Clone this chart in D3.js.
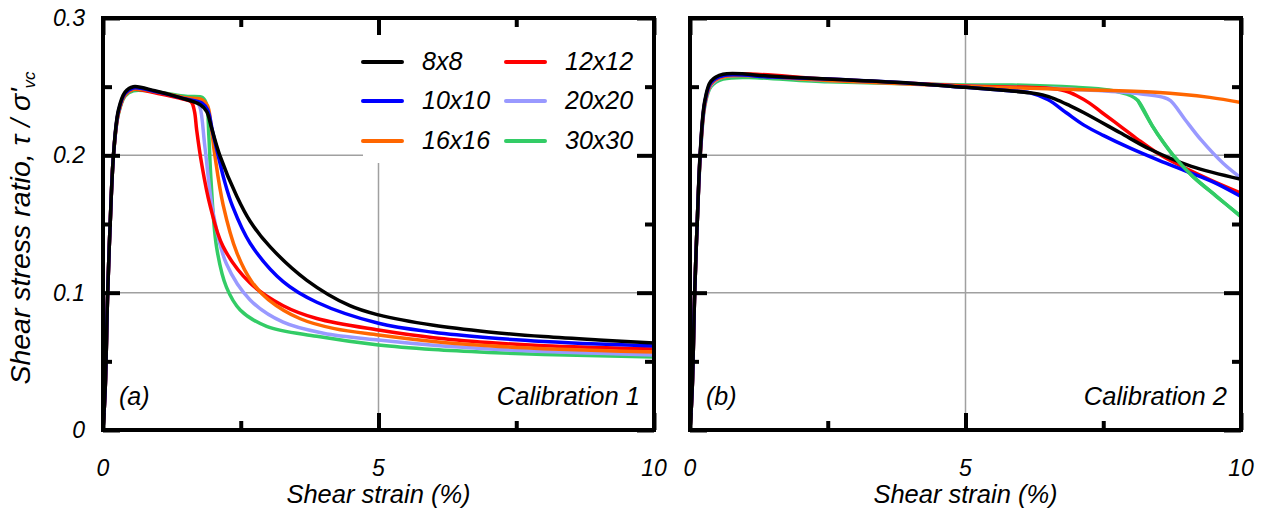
<html>
<head>
<meta charset="utf-8">
<style>
  body { margin: 0; background: #fff; }
  text { font-family: "Liberation Sans", Arial, sans-serif; font-style: italic; fill: #000; }
  .grid { stroke: #a0a0a0; stroke-width: 1.5px; }
  .curve { fill: none; stroke-width: 3.5px; stroke-linejoin: round; stroke-linecap: round; }
</style>
</head>
<body>
<script src="https://cdn.jsdelivr.net/npm/d3@7"></script>
<script>
// mesh sizes, legend order and colours
var meshes = ["8x8", "10x10", "16x16", "12x12", "20x20", "30x30"];
var meshColors = {"8x8": "#000000", "10x10": "#0000ff", "16x16": "#ff6600",
                  "12x12": "#ff0000", "20x20": "#9999ff", "30x30": "#33cc66"};
var drawOrder = ["30x30", "20x20", "12x12", "16x16", "10x10", "8x8"];

var xTicks = [0, 5, 10];
var xMinor = [2.5, 7.5];
var yTicks = [0, 0.1, 0.2, 0.3];
var yMinor = [0.05, 0.15, 0.25];

// Calibration 1 : [strain %, tau/sigma'vc]
var cal1_8x8 = [[0,0],[0.04,0.03],[0.085,0.1],[0.13,0.15],[0.19,0.2],[0.28,0.233],[0.4,0.246],[0.55,0.25],[0.94,0.247],[1.4,0.242],[1.76,0.237],[1.88,0.232],[1.97,0.22],[2.12,0.2],[2.43,0.17],[2.67,0.152],[3.03,0.1335],[3.7,0.109],[4.48,0.0905],[5,0.0838],[6,0.0762],[7,0.0714],[8,0.068],[9,0.0655],[10,0.0634]];
var cal1_10x10 = [[0,0],[0.04,0.03],[0.085,0.1],[0.13,0.15],[0.19,0.2],[0.28,0.232],[0.4,0.245],[0.55,0.249],[1.0,0.246],[1.5,0.241],[1.8,0.238],[1.9,0.233],[1.99,0.217],[2.09,0.2],[2.2,0.182],[2.35,0.163],[2.67,0.136],[3.27,0.108],[3.88,0.093],[5,0.0777],[6,0.0712],[7,0.0672],[8,0.0645],[9,0.0626],[10,0.0612]];
var cal1_16x16 = [[0,0],[0.04,0.03],[0.085,0.1],[0.13,0.15],[0.19,0.2],[0.28,0.231],[0.4,0.244],[0.55,0.248],[1.0,0.246],[1.5,0.242],[1.8,0.2405],[1.9,0.236],[1.96,0.222],[2.03,0.2],[2.18,0.164],[2.43,0.129],[2.7,0.108],[3.0,0.095],[3.58,0.081],[4.2,0.0738],[5,0.0692],[6,0.0645],[7,0.0613],[8,0.0592],[9,0.0578],[10,0.0568]];
var cal1_12x12 = [[0,0],[0.04,0.03],[0.085,0.1],[0.13,0.15],[0.19,0.2],[0.28,0.231],[0.4,0.244],[0.55,0.248],[1.0,0.245],[1.45,0.241],[1.6,0.239],[1.66,0.232],[1.7,0.2185],[1.79,0.194],[1.94,0.164],[2.18,0.1335],[2.67,0.107],[3.27,0.0905],[3.88,0.0812],[5,0.0728],[6,0.0672],[7,0.0637],[8,0.0613],[9,0.06],[10,0.059]];
var cal1_20x20 = [[0,0],[0.04,0.03],[0.085,0.1],[0.13,0.15],[0.19,0.2],[0.28,0.231],[0.4,0.244],[0.55,0.248],[1.0,0.246],[1.5,0.241],[1.7,0.239],[1.76,0.235],[1.85,0.206],[2.0,0.158],[2.24,0.121],[2.67,0.0947],[3.27,0.0785],[4,0.0705],[5,0.0655],[6,0.0617],[7,0.059],[8,0.0571],[9,0.0558],[10,0.0546]];
var cal1_30x30 = [[0,0],[0.04,0.03],[0.085,0.1],[0.13,0.15],[0.19,0.2],[0.28,0.23],[0.4,0.243],[0.55,0.247],[1.0,0.246],[1.5,0.243],[1.81,0.242],[1.88,0.237],[1.92,0.215],[1.96,0.182],[2.06,0.1335],[2.24,0.104],[2.49,0.0874],[2.97,0.0755],[3.88,0.0682],[5,0.0619],[6,0.0586],[7,0.0565],[8,0.055],[9,0.054],[10,0.0532]];

// Calibration 2
var cal2_8x8 = [[0,0],[0.04,0.03],[0.085,0.1],[0.13,0.15],[0.19,0.205],[0.27,0.24],[0.38,0.254],[0.6,0.259],[1.5,0.2575],[2.5,0.2555],[4,0.2525],[5,0.2495],[5.8,0.247],[6.17,0.2455],[6.4,0.244],[6.63,0.241],[6.9,0.236],[7.15,0.231],[7.8,0.2166],[8.35,0.2044],[9.1,0.192],[10,0.1826]];
var cal2_10x10 = [[0,0],[0.04,0.03],[0.085,0.1],[0.13,0.15],[0.19,0.204],[0.27,0.239],[0.38,0.253],[0.6,0.258],[1.5,0.257],[2.5,0.2555],[4,0.2525],[5,0.2495],[5.8,0.247],[6.17,0.2455],[6.5,0.2405],[6.83,0.231],[7.15,0.222],[7.5,0.2145],[8,0.205],[8.5,0.1965],[9,0.1885],[9.5,0.1805],[10,0.17]];
var cal2_16x16 = [[0,0],[0.04,0.03],[0.085,0.1],[0.13,0.15],[0.19,0.203],[0.27,0.238],[0.38,0.252],[0.6,0.257],[2.5,0.2545],[5,0.2502],[6,0.249],[7.15,0.2478],[8.45,0.2459],[9.43,0.2422],[10,0.2385]];
var cal2_12x12 = [[0,0],[0.04,0.03],[0.085,0.1],[0.13,0.15],[0.19,0.203],[0.27,0.238],[0.38,0.252],[0.6,0.258],[2.5,0.2555],[5,0.2505],[6.5,0.2488],[6.8,0.247],[7.02,0.2434],[7.25,0.238],[7.48,0.231],[7.8,0.2215],[8.13,0.2115],[8.45,0.2025],[8.78,0.195],[9.43,0.1824],[10,0.1725]];
var cal2_20x20 = [[0,0],[0.04,0.03],[0.085,0.1],[0.13,0.15],[0.19,0.202],[0.27,0.237],[0.38,0.251],[0.6,0.257],[2.5,0.2545],[5,0.2505],[6,0.2495],[7,0.248],[8,0.2455],[8.59,0.2422],[8.72,0.2398],[8.98,0.2263],[9.28,0.211],[9.68,0.194],[10,0.1835]];
var cal2_30x30 = [[0,0],[0.04,0.03],[0.085,0.1],[0.13,0.15],[0.19,0.201],[0.27,0.236],[0.38,0.25],[0.6,0.2555],[2.5,0.2535],[5,0.2512],[5.85,0.2512],[7,0.2495],[7.6,0.2475],[8.0,0.2434],[8.13,0.2398],[8.39,0.2215],[8.59,0.2095],[8.78,0.1995],[9.13,0.1845],[9.56,0.17],[10,0.1554]];

var panels = [
  {id: "a", label: "(a)", name: "Calibration 1", left: 103, legend: true,
   data: {"8x8": cal1_8x8, "10x10": cal1_10x10, "16x16": cal1_16x16, "12x12": cal1_12x12, "20x20": cal1_20x20, "30x30": cal1_30x30}},
  {id: "b", label: "(b)", name: "Calibration 2", left: 690, legend: false,
   data: {"8x8": cal2_8x8, "10x10": cal2_10x10, "16x16": cal2_16x16, "12x12": cal2_12x12, "20x20": cal2_20x20, "30x30": cal2_30x30}}
];

var width = 1265, height = 508;
var plotW = 551, plotTop = 18, plotBottom = 430;

var svg = d3.select("body").append("svg")
    .attr("width", width)
    .attr("height", height);

var y = d3.scaleLinear().domain([0, 0.3]).range([plotBottom, plotTop]);

panels.forEach(function(p) {
  var x = d3.scaleLinear().domain([0, 10]).range([p.left, p.left + plotW]);
  var g = svg.append("g");

  // grid
  g.selectAll(".gx").data([5]).join("line").attr("class", "grid")
    .attr("x1", d => x(d)).attr("x2", d => x(d)).attr("y1", plotTop).attr("y2", plotBottom);
  g.selectAll(".gy").data([0.1, 0.2]).join("line").attr("class", "grid")
    .attr("x1", x(0)).attr("x2", x(10)).attr("y1", d => y(d)).attr("y2", d => y(d));

  // legend background hides the grid behind it
  if (p.legend) {
    g.append("rect").attr("x", 363).attr("y", 24).attr("width", 285).attr("height", 139).attr("fill", "#fff");
  }

  var clipId = "clip-" + p.id;
  svg.append("clipPath").attr("id", clipId).append("rect")
    .attr("x", x(0)).attr("y", plotTop).attr("width", plotW).attr("height", plotBottom - plotTop);

  var line = d3.line().x(d => x(d[0])).y(d => y(d[1])).curve(d3.curveCatmullRom.alpha(0.5));

  var cg = g.append("g").attr("clip-path", "url(#" + clipId + ")");
  drawOrder.forEach(function(m) {
    cg.append("path").attr("class", "curve")
      .attr("stroke", meshColors[m])
      .attr("stroke-width", m === "8x8" ? 4 : 3.5)
      .attr("d", line(p.data[m]));
  });
  if (p.id === "b") {
    // the 30x30 softening branch is drawn heavier in the original
    cg.append("path").attr("class", "curve")
      .attr("stroke", meshColors["30x30"]).attr("stroke-width", 6)
      .attr("d", line(p.data["30x30"].filter(d => d[0] >= 8.13)));
  }

  // ticks on all four sides, pointing inward
  function ticks(axis, tr) {
    g.append("g").attr("transform", tr).call(axis)
      .call(s => s.select(".domain").remove())
      .call(s => s.selectAll("line").attr("stroke", "#000").attr("stroke-width", 4))
      .call(s => s.selectAll("text").remove());
  }
  ticks(d3.axisBottom(x).tickValues(xTicks).tickSize(-17), "translate(0," + plotBottom + ")");
  ticks(d3.axisBottom(x).tickValues(xMinor).tickSize(-9), "translate(0," + plotBottom + ")");
  ticks(d3.axisTop(x).tickValues(xTicks).tickSize(-17), "translate(0," + plotTop + ")");
  ticks(d3.axisTop(x).tickValues(xMinor).tickSize(-9), "translate(0," + plotTop + ")");
  ticks(d3.axisLeft(y).tickValues(yTicks).tickSize(-17), "translate(" + x(0) + ",0)");
  ticks(d3.axisLeft(y).tickValues(yMinor).tickSize(-9), "translate(" + x(0) + ",0)");
  ticks(d3.axisRight(y).tickValues(yTicks).tickSize(-17), "translate(" + x(10) + ",0)");
  ticks(d3.axisRight(y).tickValues(yMinor).tickSize(-9), "translate(" + x(10) + ",0)");

  // frame
  g.append("rect").attr("x", x(0)).attr("y", plotTop).attr("width", plotW).attr("height", plotBottom - plotTop)
    .attr("fill", "none").attr("stroke", "#000").attr("stroke-width", 4);

  // x tick labels
  g.selectAll(".xl").data(xTicks).join("text")
    .attr("x", d => x(d)).attr("y", 476).attr("text-anchor", "middle")
    .attr("font-size", 23).text(d => d);

  g.append("text").attr("x", x(5)).attr("y", 503).attr("text-anchor", "middle")
    .attr("font-size", 25.5).text("Shear strain (%)");

  g.append("text").attr("x", x(0) + 16).attr("y", 405).attr("font-size", 25).text(p.label);
  g.append("text").attr("x", x(10) - 14).attr("y", 405).attr("text-anchor", "end")
    .attr("font-size", 25.5).text(p.name);

  if (p.legend) {
    var cols = [[363, 422], [506, 565]];
    var rows = [62, 101, 141];
    meshes.forEach(function(m, i) {
      var c = cols[Math.floor(i / 3)], r = rows[i % 3];
      g.append("line").attr("x1", c[0]).attr("x2", c[0] + 39).attr("y1", r).attr("y2", r)
        .attr("stroke", meshColors[m]).attr("stroke-width", 4).attr("stroke-linecap", "round");
      g.append("text").attr("x", c[1]).attr("y", r + 8).attr("font-size", 25).text(m);
    });
  }
});

// y tick labels, left panel only
svg.selectAll(".yl").data(yTicks).join("text")
  .attr("x", 85).attr("y", d => y(d) + 8).attr("text-anchor", "end")
  .attr("font-size", 23).text(d => d === 0 ? "0" : d3.format(".1f")(d));

// y axis title
var yt = svg.append("text").attr("transform", "translate(30,228) rotate(-90)")
  .attr("text-anchor", "middle").attr("font-size", 28.5);
yt.append("tspan").text("Shear stress ratio, \u03c4 / \u03c3'");
yt.append("tspan").attr("font-size", 17).attr("dy", 5).text("vc");
</script>
</body>
</html>
